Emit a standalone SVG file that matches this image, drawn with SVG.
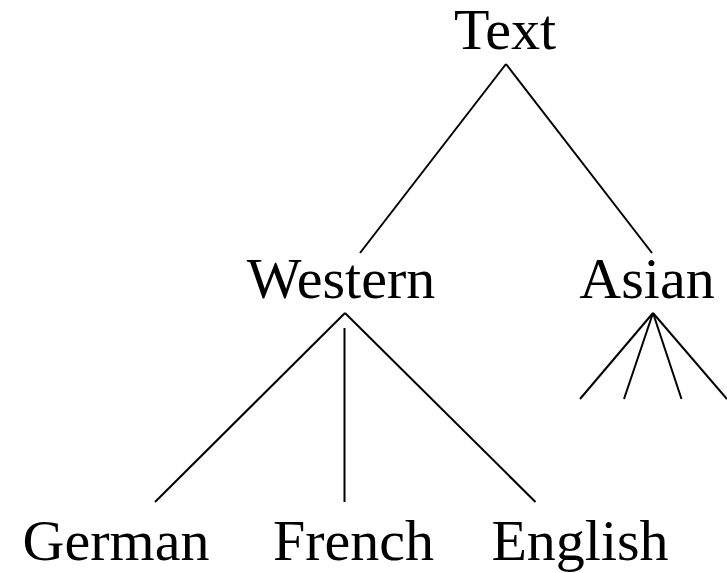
<svg xmlns="http://www.w3.org/2000/svg" width="727" height="573" viewBox="0 0 727 573">
<style>
text { font-family: "Liberation Serif", "Times New Roman", serif; font-size: 58px; fill: #000; text-anchor: middle; }
line { stroke: #000; stroke-width: 2; stroke-linecap: butt; }
</style>
<rect width="727" height="573" fill="#fff"/>
<g id="connectors">
<line x1="506" y1="64" x2="360" y2="253"/>
<line x1="506" y1="64" x2="652" y2="253"/>
<line x1="345" y1="313" x2="155" y2="502"/>
<line x1="344.5" y1="328" x2="344.5" y2="502"/>
<line x1="345" y1="313" x2="535.5" y2="502"/>
<line x1="653" y1="313" x2="580" y2="399"/>
<line x1="653" y1="313" x2="624" y2="399"/>
<line x1="653" y1="313" x2="681.5" y2="399"/>
<line x1="653" y1="313" x2="727" y2="399"/>
</g>
<g id="node-text"><text x="505" y="49">Text</text></g>
<g id="node-western"><text x="341" y="298">Western</text></g>
<g id="node-asian"><text x="647" y="298">Asian</text></g>
<g id="node-german"><text x="116" y="560">German</text></g>
<g id="node-french"><text x="353.5" y="560">French</text></g>
<g id="node-english"><text x="580" y="560">English</text></g>
</svg>
